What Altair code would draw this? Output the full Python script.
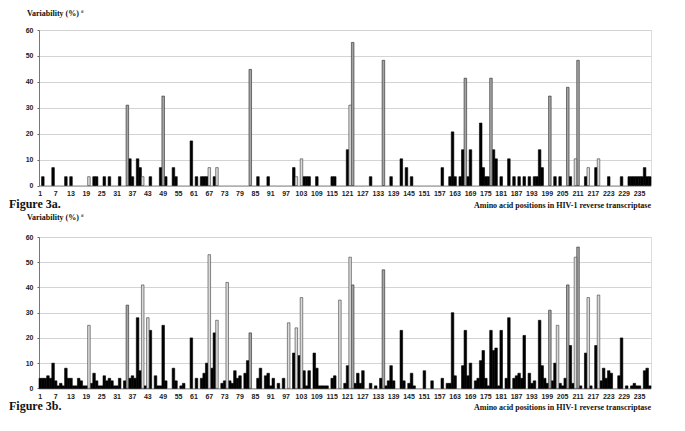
import altair as alt
import pandas as pd

positions = list(range(1, 240))
tick_positions = list(range(1, 240, 6))
y_ticks = [0, 10, 20, 30, 40, 50, 60]

# ---- Figure 3a ----
a_black_pos = [2, 6, 11, 13, 22, 23, 26, 28, 32, 36, 37, 39, 40, 44, 48, 50, 53, 54, 60, 62,
               64, 65, 66, 69, 86, 90, 100, 104, 105, 106, 109, 115, 116, 121, 130, 138, 142, 144, 146, 158,
               161, 162, 163, 165, 166, 168, 169, 173, 174, 175, 176, 178, 179, 181, 184, 186, 188, 190, 192, 194,
               195, 196, 197, 202, 204, 208, 214, 218, 223, 228, 231, 232, 233, 234, 235, 236, 237, 238, 239]
a_black_val = [3.4, 6.9, 3.4, 3.4, 3.4, 3.4, 3.4, 3.4, 3.4, 10.3, 3.4, 10.3, 6.9, 3.4, 6.9, 3.4, 6.9, 3.4, 17.2, 3.4,
               3.4, 3.4, 3.4, 3.4, 3.4, 3.4, 6.9, 3.4, 3.4, 3.4, 3.4, 3.4, 3.4, 13.8, 3.4, 3.4, 10.3, 6.9, 3.4, 6.9,
               3.4, 20.7, 3.4, 3.4, 13.8, 3.4, 13.8, 24.1, 6.9, 3.4, 3.4, 13.8, 10.3, 3.4, 10.3, 3.4, 3.4, 3.4, 3.4, 3.4,
               3.4, 13.8, 6.9, 3.4, 3.4, 3.4, 3.4, 6.9, 3.4, 3.4, 3.4, 3.4, 3.4, 3.4, 3.4, 3.4, 6.9, 3.4, 3.4]
a_gray_pos = [35, 49, 83, 123, 135, 167, 177, 200, 207, 211]
a_gray_val = [31.0, 34.5, 44.8, 55.2, 48.3, 41.4, 41.4, 34.5, 37.9, 48.3]
a_dot_pos = [20, 41, 67, 70, 101, 103, 122, 210, 215, 219]
a_dot_val = [3.4, 3.4, 6.9, 6.9, 3.4, 10.3, 31.0, 10.3, 6.9, 10.3]

# ---- Figure 3b ----
b_black_pos = [1, 2, 3, 4, 5, 6, 7, 8, 9, 10, 11, 12, 13, 14, 15, 16, 17, 18, 19, 21,
               22, 23, 24, 25, 26, 27, 28, 29, 30, 31, 32, 34, 36, 37, 38, 39, 40, 42, 44, 46,
               47, 48, 49, 50, 53, 54, 56, 57, 60, 62, 64, 65, 66, 68, 69, 72, 73, 75, 76, 77,
               78, 79, 81, 82, 86, 87, 89, 90, 91, 92, 94, 96, 100, 102, 104, 105, 106, 108, 109, 110,
               111, 112, 113, 115, 116, 120, 121, 124, 125, 126, 127, 130, 132, 134, 136, 137, 138, 139, 142, 143,
               145, 146, 147, 151, 154, 158, 160, 161, 162, 163, 166, 167, 168, 169, 171, 172, 173, 174, 175, 176,
               177, 178, 179, 180, 181, 183, 184, 186, 187, 188, 189, 190, 192, 193, 194, 196, 197, 198, 199, 201,
               202, 204, 205, 206, 208, 209, 212, 214, 216, 218, 220, 221, 222, 223, 224, 227, 228, 230, 232, 233,
               234, 235, 237, 238, 239]
b_black_val = [4, 4, 4, 5, 4, 10, 3, 1, 2, 1, 8, 4, 4, 1, 1, 4, 3, 1, 1, 2,
               6, 3, 1, 1, 5, 3, 4, 3, 1, 1, 4, 3, 4, 5, 4, 28, 7, 1, 23, 5,
               1, 1, 25, 3, 8, 3, 1, 2, 20, 4, 4, 6, 10, 8, 22, 2, 3, 3, 2, 7,
               4, 5, 6, 11, 4, 8, 5, 6, 1, 4, 2, 4, 14, 13, 7, 1, 7, 14, 8, 1,
               1, 1, 1, 4, 5, 2, 9, 2, 6, 2, 7, 2, 1, 4, 1, 3, 9, 3, 23, 3,
               2, 6, 1, 7, 3, 4, 2, 2, 30, 5, 9, 23, 5, 10, 3, 4, 11, 15, 4, 1,
               23, 15, 16, 1, 23, 4, 28, 4, 5, 6, 4, 21, 6, 2, 3, 27, 9, 4, 2, 3,
               10, 2, 1, 4, 17, 2, 1, 14, 1, 17, 3, 8, 4, 7, 6, 5, 20, 1, 1, 2,
               1, 1, 7, 8, 1]
b_gray_pos = [35, 83, 123, 135, 200, 207, 211]
b_gray_val = [33, 22, 41, 47, 31, 41, 56]
b_dot_pos = [20, 41, 43, 67, 70, 74, 98, 101, 103, 118, 122, 203, 210, 215, 219]
b_dot_val = [25, 41, 28, 53, 27, 42, 26, 24, 36, 35, 52, 25, 52, 36, 37]

kinds = ["black", "gray", "dotted"]
fills = ["#000000", "#a4a4a4", "#d9d9d9"]
strokes = ["#000000", "#262626", "#3c3c3c"]

y_title = "Variability  (%)"
x_title = "Amino acid  positions in HIV-1 reverse transcriptase"


def frame(bp, bv, gp, gv, dp, dv):
    return pd.concat([
        pd.DataFrame({"pos": bp, "val": bv, "kind": "black"}),
        pd.DataFrame({"pos": gp, "val": gv, "kind": "gray"}),
        pd.DataFrame({"pos": dp, "val": dv, "kind": "dotted"}),
    ], ignore_index=True)


def label(text, x, y, size, align="left", font="Liberation Serif"):
    return alt.Chart(pd.DataFrame({"t": [text]})).mark_text(
        align=align, baseline="alphabetic", font=font, fontWeight="bold",
        fontSize=size, color="#111111"
    ).encode(text="t:N", x=alt.value(x), y=alt.value(y))


def panel(df, height, fig_text, title_dy):
    bars = alt.Chart(df).mark_bar(strokeWidth=0.6).encode(
        x=alt.X("pos:O",
                scale=alt.Scale(domain=positions, paddingInner=0, paddingOuter=0),
                axis=alt.Axis(values=tick_positions, labelAngle=0, title=None, ticks=False,
                              grid=False, labelFont="Liberation Sans", labelFontWeight="bold",
                              labelFontSize=7, labelColor="#222222", domainDash=[1, 1],
                              domainColor="#444444", labelPadding=4)),
        y=alt.Y("val:Q",
                scale=alt.Scale(domain=[0, 60], nice=False),
                axis=alt.Axis(values=y_ticks, title=None, ticks=True, tickSize=2,
                              tickColor="#666666", grid=True, gridColor="#d4d4d4",
                              labelFont="Liberation Sans", labelFontWeight="bold",
                              labelFontSize=7, labelColor="#222222", domainColor="#777777",
                              labelPadding=4)),
        fill=alt.Fill("kind:N", scale=alt.Scale(domain=kinds, range=fills), legend=None),
        stroke=alt.Stroke("kind:N", scale=alt.Scale(domain=kinds, range=strokes), legend=None),
    )
    return alt.layer(
        bars,
        label(y_title, -12, title_dy, 8),
        label("#", 42, title_dy - 3, 5),
        label(fig_text, -30, height + 22, 12),
        label(x_title, 612, height + 22, 8, align="right"),
    ).properties(width=612, height=height)


chart_a = panel(frame(a_black_pos, a_black_val, a_gray_pos, a_gray_val, a_dot_pos, a_dot_val),
                155.5, "Figure 3a.", -14)
chart_b = panel(frame(b_black_pos, b_black_val, b_gray_pos, b_gray_val, b_dot_pos, b_dot_val),
                151.4, "Figure 3b.", -17)

chart = alt.vconcat(chart_a, chart_b, spacing=2).properties(
    padding={"left": 0, "top": 0, "right": 0, "bottom": 0}
).configure_view(stroke="#c8c8c8").configure(background="white")

chart.save("out.html", embed_options={"renderer": "svg", "actions": False})
